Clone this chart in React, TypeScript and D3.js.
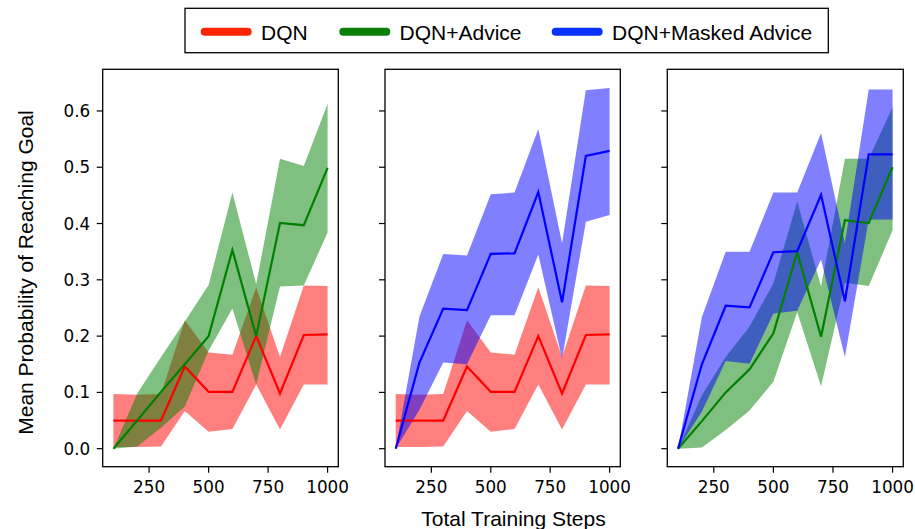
import React from "react";
import * as d3 from "d3";

const steps = [100, 200, 300, 400, 500, 600, 700, 800, 900, 1000];

// DQN (shared by panels 1 and 2)
const dqnMean = [0.05, 0.05, 0.05, 0.146, 0.101, 0.101, 0.2, 0.098, 0.202, 0.203];
const dqnUpper = [0.097, 0.096, 0.097, 0.228, 0.171, 0.167, 0.287, 0.163, 0.29, 0.289];
const dqnLower = [0.003, 0.003, 0.004, 0.067, 0.03, 0.035, 0.114, 0.034, 0.114, 0.114];

// DQN+Advice (panel 1)
const adviceMean1 = [0.0, 0.05, 0.101, 0.15, 0.2, 0.353, 0.2, 0.401, 0.397, 0.499];
const adviceUpper1 = [0.0, 0.098, 0.163, 0.226, 0.291, 0.455, 0.292, 0.515, 0.502, 0.613];
const adviceLower1 = [0.0, 0.004, 0.037, 0.075, 0.174, 0.249, 0.114, 0.288, 0.29, 0.384];

// DQN+Masked Advice (panel 2)
const maskedMean2 = [0.0, 0.153, 0.249, 0.246, 0.346, 0.347, 0.456, 0.26, 0.52, 0.529];
const maskedUpper2 = [0.0, 0.235, 0.346, 0.343, 0.452, 0.455, 0.568, 0.365, 0.637, 0.641];
const maskedLower2 = [0.0, 0.069, 0.153, 0.15, 0.237, 0.237, 0.345, 0.16, 0.403, 0.415];

// Panel 3
const adviceMean3 = [0.0, 0.049, 0.1, 0.141, 0.205, 0.349, 0.199, 0.406, 0.401, 0.5];
const adviceUpper3 = [0.0, 0.095, 0.163, 0.217, 0.294, 0.439, 0.288, 0.515, 0.515, 0.607];
const adviceLower3 = [0.0, 0.002, 0.033, 0.068, 0.119, 0.243, 0.111, 0.295, 0.289, 0.388];
const maskedMean3 = [0.0, 0.15, 0.254, 0.251, 0.349, 0.351, 0.451, 0.262, 0.523, 0.523];
const maskedUpper3 = [0.0, 0.234, 0.35, 0.35, 0.455, 0.455, 0.561, 0.365, 0.638, 0.638];
const maskedLower3 = [0.0, 0.066, 0.156, 0.151, 0.24, 0.245, 0.336, 0.163, 0.407, 0.407];

const xTicks = [250, 500, 750, 1000];
const yTicks = [0.0, 0.1, 0.2, 0.3, 0.4, 0.5, 0.6];
const legendLabels = ["DQN", "DQN+Advice", "DQN+Masked Advice"];

const RED = "#ff0000";
const GREEN = "#008000";
const BLUE = "#0000ff";
const legendColors = ["#ff2400", "#0a800a", "#0a33ff"];

type Series = { mean: number[]; upper: number[]; lower: number[]; color: string };

const panels: { left: number; right: number; series: Series[] }[] = [
  {
    left: 102.7,
    right: 338.3,
    series: [
      { mean: dqnMean, upper: dqnUpper, lower: dqnLower, color: RED },
      { mean: adviceMean1, upper: adviceUpper1, lower: adviceLower1, color: GREEN },
    ],
  },
  {
    left: 385,
    right: 620.3,
    series: [
      { mean: dqnMean, upper: dqnUpper, lower: dqnLower, color: RED },
      { mean: maskedMean2, upper: maskedUpper2, lower: maskedLower2, color: BLUE },
    ],
  },
  {
    left: 667.3,
    right: 903.3,
    series: [
      { mean: adviceMean3, upper: adviceUpper3, lower: adviceLower3, color: GREEN },
      { mean: maskedMean3, upper: maskedUpper3, lower: maskedLower3, color: BLUE },
    ],
  },
];

const TOP = 69.3;
const BOTTOM = 466.7;
const TICK_FONT = "'DejaVu Sans', sans-serif";
const LABEL_FONT = "'Liberation Sans', Arial, sans-serif";

export default function App() {
  const y = d3.scaleLinear().domain([-0.032, 0.674]).range([BOTTOM, TOP]);

  return (
    <svg
      width={915}
      height={529}
      style={{ position: "absolute", left: 0, top: 0, background: "#fff" }}
    >
      <rect x={0} y={0} width={915} height={529} fill="#fff" />
      {panels.map((p, pi) => {
        const x = d3.scaleLinear().domain([55, 1045]).range([p.left, p.right]);
        const line = d3
          .line<number>()
          .x((_, i) => x(steps[i]))
          .y((d) => y(d));
        return (
          <g key={pi}>
            {p.series.map((s, si) => {
              const a = d3
                .area<number>()
                .x((_, i) => x(steps[i]))
                .y0((_, i) => y(s.lower[i]))
                .y1((_, i) => y(s.upper[i]));
              return (
                <path key={"f" + si} d={a(s.mean) || ""} fill={s.color} fillOpacity={0.5} stroke="none" />
              );
            })}
            {p.series.map((s, si) => (
              <path
                key={"l" + si}
                d={line(s.mean) || ""}
                fill="none"
                stroke={s.color}
                strokeWidth={2.2}
                strokeLinejoin="miter"
              />
            ))}
            <rect
              x={p.left}
              y={TOP}
              width={p.right - p.left}
              height={BOTTOM - TOP}
              fill="none"
              stroke="#000"
              strokeWidth={1.3}
            />
            {xTicks.map((t) => (
              <g key={"x" + t}>
                <line x1={x(t)} x2={x(t)} y1={BOTTOM} y2={BOTTOM + 6} stroke="#000" strokeWidth={1.2} />
                <text
                  x={x(t)}
                  y={493.3}
                  textAnchor="middle"
                  fontFamily={TICK_FONT}
                  fontSize={16.8}
                  fill="#000"
                >
                  {t}
                </text>
              </g>
            ))}
            {yTicks.map((t) => (
              <g key={"y" + t}>
                <line x1={p.left - 6} x2={p.left} y1={y(t)} y2={y(t)} stroke="#000" strokeWidth={1.2} />
                {pi === 0 && (
                  <text
                    x={p.left - 12.5}
                    y={y(t)}
                    dy="0.36em"
                    textAnchor="end"
                    fontFamily={TICK_FONT}
                    fontSize={16.8}
                    fill="#000"
                  >
                    {t.toFixed(1)}
                  </text>
                )}
              </g>
            ))}
          </g>
        );
      })}

      <text
        transform="translate(33.3,272.5) rotate(-90)"
        textAnchor="middle"
        fontFamily={LABEL_FONT}
        fontSize={21}
        fill="#000"
      >
        Mean Probability of Reaching Goal
      </text>
      <text x={513.5} y={526} textAnchor="middle" fontFamily={LABEL_FONT} fontSize={21} fill="#000">
        Total Training Steps
      </text>

      {/* Legend */}
      <rect x={185} y={8.3} width={643.3} height={44.4} fill="#fff" stroke="#000" strokeWidth={1.3} />
      {legendLabels.map((lab, i) => {
        const starts = [200.7, 339.3, 551.7];
        const sx = starts[i];
        return (
          <g key={lab}>
            <line
              x1={sx + 4}
              x2={sx + 47}
              y1={31.7}
              y2={31.7}
              stroke={legendColors[i]}
              strokeWidth={8}
              strokeLinecap="round"
            />
            <text x={sx + 60.3} y={39.5} fontFamily={LABEL_FONT} fontSize={21} fill="#000">
              {lab}
            </text>
          </g>
        );
      })}
    </svg>
  );
}
